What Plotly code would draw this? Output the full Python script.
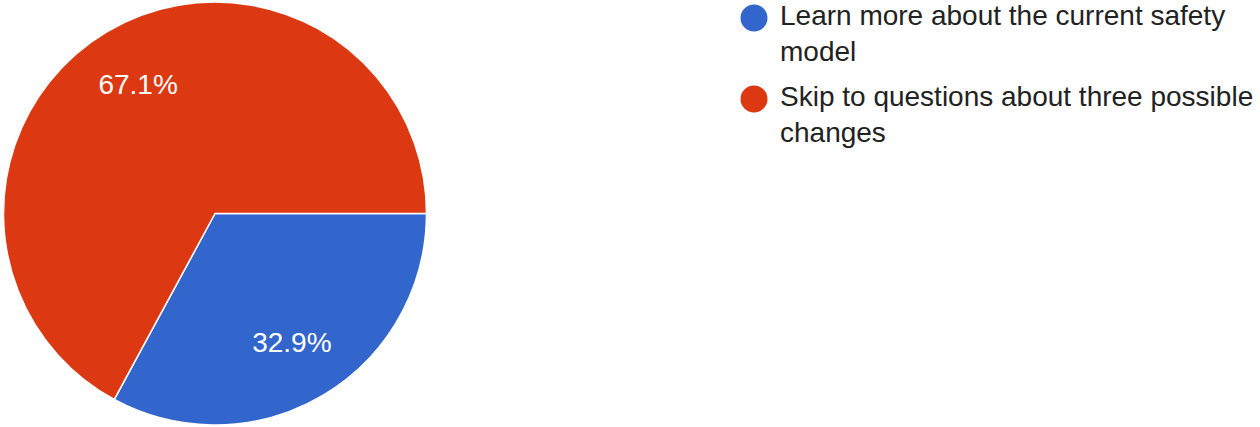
import plotly.graph_objects as go

labels = ["Learn more about the current safety model",
          "Skip to questions about three possible changes"]
legend_text = ["Learn more about the current safety<br>model",
               "Skip to questions about three possible<br>changes"]
values = [32.9, 67.1]
colors = ["#3366CC", "#DC3912"]

W, H = 1260, 427
FONT = "Liberation Sans, Arial, sans-serif"
pie_domain = dict(x=[0, 430 / W], y=[2 / H, 425 / H])

fig = go.Figure()
# base full pie (no text)
fig.add_trace(go.Pie(
    labels=labels, values=values, sort=False, direction="clockwise",
    rotation=90, marker=dict(colors=colors, line=dict(color="white", width=1.5)),
    textinfo="none", domain=pie_domain, showlegend=False,
    hoverinfo="label+percent",
))
# transparent overlay ring carrying the percentage labels further out
fig.add_trace(go.Pie(
    labels=labels, values=values, sort=False, direction="clockwise",
    rotation=90, hole=0.42,
    marker=dict(colors=["rgba(0,0,0,0)"] * len(values), line=dict(width=0)),
    textinfo="percent", texttemplate="%{percent:.1%}", textposition="inside",
    insidetextorientation="horizontal",
    textfont=dict(family=FONT, size=28, color="white"),
    domain=pie_domain, showlegend=False, hoverinfo="skip",
))

# custom legend with large circular markers
idx = list(range(len(labels)))
fig.add_trace(go.Scatter(
    x=[0] * len(idx), y=idx, mode="markers",
    marker=dict(size=27, color=colors, symbol="circle"),
    xaxis="x", yaxis="y", showlegend=False, hoverinfo="skip", cliponaxis=False,
))
for i, t in zip(idx, legend_text):
    fig.add_annotation(x=0, y=i, xref="x", yref="y", text=t, showarrow=False,
                       xanchor="left", yanchor="top", xshift=24, yshift=20,
                       align="left", font=dict(family=FONT, size=28, color="#222222"))

r0 = -18 / 81
fig.update_layout(
    width=W, height=H, margin=dict(l=0, r=0, t=0, b=0),
    paper_bgcolor="white", plot_bgcolor="rgba(0,0,0,0)",
    xaxis=dict(domain=[754 / W, 1], range=[0, 1], visible=False, fixedrange=True),
    yaxis=dict(domain=[0, 1], range=[r0 + H / 81, r0], visible=False, fixedrange=True),
    showlegend=False,
)
fig.write_html("out.html", config={"displayModeBar": False},
               post_script="document.body.style.margin='0';")
